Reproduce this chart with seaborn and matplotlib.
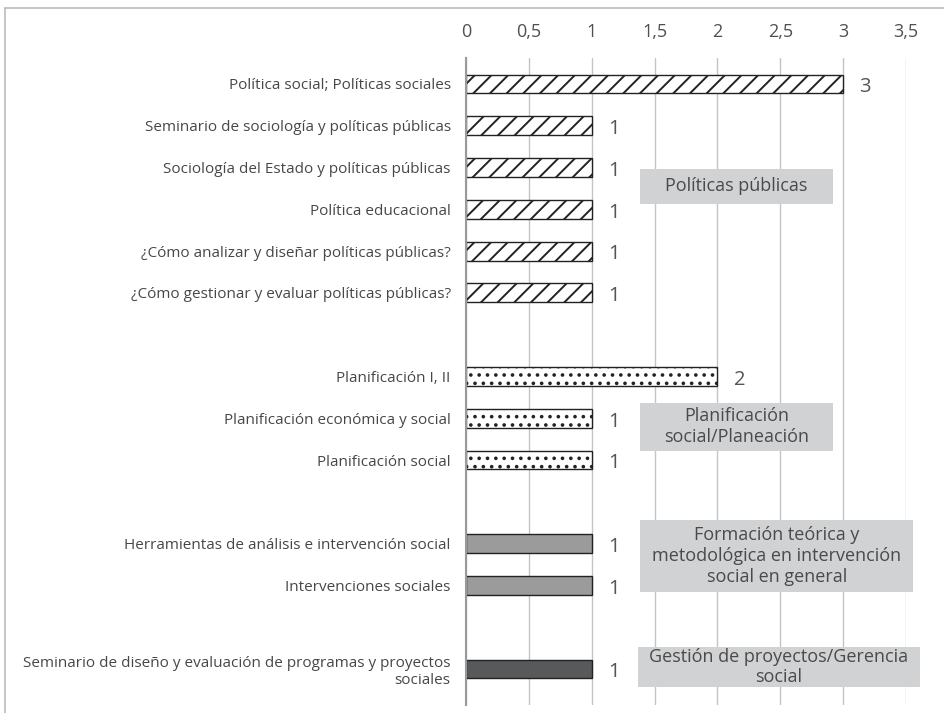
import matplotlib
matplotlib.use("Agg")
import matplotlib.pyplot as plt
import seaborn as sns
import pandas as pd
from matplotlib.patches import Rectangle
from matplotlib.lines import Line2D

# data
courses = [
    "Política social; Políticas sociales",
    "Seminario de sociología y políticas públicas",
    "Sociología del Estado y políticas públicas",
    "Política educacional",
    "¿Cómo analizar y diseñar políticas públicas?",
    "¿Cómo gestionar y evaluar políticas públicas?",
    "Planificación I, II",
    "Planificación económica y social",
    "Planificación social",
    "Herramientas de análisis e intervención social",
    "Intervenciones sociales",
    "Seminario de diseño y evaluación de programas y proyectos\nsociales",
]
counts = [3, 1, 1, 1, 1, 1, 2, 1, 1, 1, 1, 1]
groups = ["pp"] * 6 + ["plan"] * 3 + ["form"] * 2 + ["gest"]
rows = [0, 1, 2, 3, 4, 5, 7, 8, 9, 11, 12, 14]
group_titles = {
    "pp": "Políticas públicas",
    "plan": "Planificación\nsocial/Planeación",
    "form": "Formación teórica y\nmetodológica en intervención\nsocial en general",
    "gest": "Gestión de proyectos/Gerencia\nsocial",
}
xticks = [0, 0.5, 1, 1.5, 2, 2.5, 3, 3.5]

df = pd.DataFrame({"course": courses, "count": counts, "group": groups, "row": rows})

styles = {
    "pp": dict(facecolor="white", hatch="//"),
    "plan": dict(facecolor="white", hatch=".."),
    "form": dict(facecolor="#9b9b9b", hatch=""),
    "gest": dict(facecolor="#58595b", hatch=""),
}

sns.set_style("white")
plt.rcParams["font.family"] = ["Open Sans", "DejaVu Sans"]
plt.rcParams["hatch.linewidth"] = 1.4

fig = plt.figure(figsize=(9.44, 7.13), dpi=100)
ax = fig.add_axes([466 / 944, 1 - 705 / 713, (906 - 466) / 944, (705 - 58) / 713])

sns.barplot(data=df, x="count", y="row", orient="h", native_scale=True,
            width=0.45, color="white", ax=ax, errorbar=None, zorder=3)

for patch, g in zip(ax.patches, df["group"]):
    st = styles[g]
    patch.set_facecolor(st["facecolor"])
    patch.set_hatch(st["hatch"])
    patch.set_edgecolor("#222222")
    patch.set_linewidth(1.0)

ax.set_xlim(0, 3.5)
ax.set_ylim(14.86, -0.62)
ax.xaxis.tick_top()
ax.set_xticks(xticks)
ax.set_xticklabels([f"{t:g}".replace(".", ",") for t in xticks], fontsize=13,
                   color="#505050")
ax.tick_params(axis="x", length=0, pad=12)
ax.set_yticks(rows)
ax.set_yticklabels(courses, fontsize=11, color="#474747",
                   multialignment="right")
ax.tick_params(axis="y", length=0, pad=11)
ax.set_xlabel("")
ax.set_ylabel("")
ax.grid(axis="x", color="#c4c4c4", linewidth=1, zorder=0)
ax.set_axisbelow(True)
for s in ["top", "right", "bottom"]:
    ax.spines[s].set_visible(False)
ax.spines["left"].set_color("#9a9a9a")
ax.spines["left"].set_linewidth(1.5)
ax.spines["left"].set_zorder(5)

for r, c in zip(rows, counts):
    ax.text(c + 0.13, r + 0.08, str(c), va="center", ha="left", fontsize=14.5,
            color="#555555")

# group boxes
boxes = {
    "pp": (1.385, 2.03, 2.92, 2.87),
    "plan": (1.385, 7.63, 2.92, 8.78),
    "form": (1.385, 10.43, 3.557, 12.15),
    "gest": (1.369, 13.47, 3.61, 14.43),
}
for g, (x0, y0, x1, y1) in boxes.items():
    ax.add_patch(Rectangle((x0, y0), x1 - x0, y1 - y0, facecolor="#d1d2d3",
                           edgecolor="none", zorder=4, clip_on=False))
    ax.text((x0 + x1) / 2, (y0 + y1) / 2, group_titles[g], ha="center",
            va="center", fontsize=13, color="#4a4a4a",
            linespacing=1.2, zorder=5)

# outer frame
fig.add_artist(Line2D([5 / 944, 5 / 944], [0, 1 - 8 / 713], color="#bbbbbb", lw=1.2))
fig.add_artist(Line2D([5 / 944, 1], [1 - 8 / 713, 1 - 8 / 713], color="#bbbbbb", lw=1.2))

fig.savefig("out.png", dpi=100)
